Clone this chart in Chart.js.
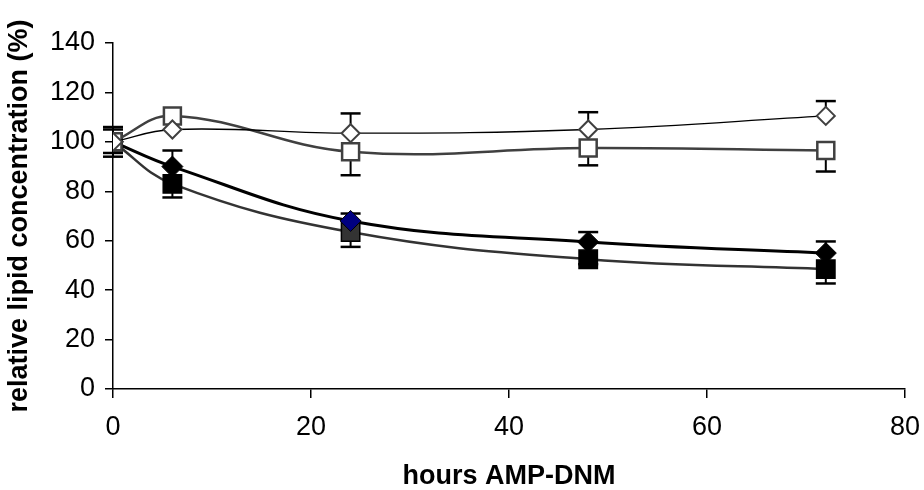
<!DOCTYPE html>
<html>
<head>
<meta charset="utf-8">
<script src="https://cdn.jsdelivr.net/npm/chart.js@4/dist/chart.umd.min.js"></script>
<style>
  html, body { margin: 0; padding: 0; background: #fff; }
  canvas { display: block; }
</style>
</head>
<body>
<canvas id="chart" width="924" height="490"></canvas>
<script>
// heures de prélèvement
const hours = [0, 6, 24, 48, 72];

// concentrations relatives (%)
const openDiamond   = [100, 105, 103.5, 105, 110.5];
const openSquare    = [100, 110.5, 96, 97.5, 96.5];
const filledDiamond = [100, 90, 68, 59.5, 55];
const filledSquare  = [100, 83, 63.5, 52.5, 48.5];

// barres d'erreur (un seul sens visible par série)
const openDiamondErrUp    = [6, 0, 8, 7, 6];
const openSquareErrDown   = [4.5, 0, 9.5, 7, 8.5];
const filledDiamondErrUp  = [5, 6.5, 3, 4, 4.7];
const filledSquareErrDown = [6, 5.5, 6, 2, 5.8];

const xTicks = [0, 20, 40, 60, 80];
const yTicks = [0, 20, 40, 60, 80, 100, 120, 140];

const FONT = "'Liberation Sans', Arial, sans-serif";

function toPoints(values) {
    return hours.map((h, i) => ({ x: h, y: values[i] }));
}

const errorBars = {
    id: "errorBars",
    beforeDatasetsDraw(chart) {
        const { ctx, scales: { x, y } } = chart;
        ctx.save();
        ctx.strokeStyle = "#000";
        chart.data.datasets.forEach(ds => {
            const up = ds.errUp || [];
            const down = ds.errDown || [];
            ds.data.forEach((p, i) => {
                const px = x.getPixelForValue(p.x);
                const py = y.getPixelForValue(p.y);
                [[up[i], 1], [down[i], -1]].forEach(([e, dir]) => {
                    if (!e) return;
                    const ey = y.getPixelForValue(p.y + dir * e);
                    ctx.lineWidth = 2;
                    ctx.beginPath();
                    ctx.moveTo(px, py);
                    ctx.lineTo(px, ey);
                    ctx.stroke();
                    ctx.lineWidth = 2.5;
                    ctx.beginPath();
                    ctx.moveTo(px - 10, ey);
                    ctx.lineTo(px + 10, ey);
                    ctx.stroke();
                });
            });
        });
        ctx.restore();
    }
};

const ctx = document.getElementById("chart").getContext("2d");

new Chart(ctx, {
    type: "scatter",
    data: {
        datasets: [
            {
                data: toPoints(openDiamond),
                errUp: openDiamondErrUp,
                showLine: true,
                tension: 0.4,
                borderColor: "#000",
                borderWidth: 1.3,
                pointStyle: "rectRot",
                pointRadius: 9,
                pointBorderWidth: 2,
                pointBorderColor: "#404040",
                pointBackgroundColor: "#fff"
            },
            {
                data: toPoints(openSquare),
                errDown: openSquareErrDown,
                showLine: true,
                tension: 0.4,
                borderColor: "#404040",
                borderWidth: 2.5,
                pointStyle: "rect",
                pointRadius: 12,
                pointBorderWidth: 2.5,
                pointBorderColor: "#404040",
                pointBackgroundColor: "#fff"
            },
            {
                data: toPoints(filledDiamond),
                errUp: filledDiamondErrUp,
                showLine: true,
                tension: 0.4,
                borderColor: "#000",
                borderWidth: 3,
                pointStyle: "rectRot",
                pointRadius: 10.5,
                pointBorderWidth: 1,
                pointBorderColor: "#000",
                pointBackgroundColor: ["#000", "#000", "#000080", "#000", "#000"]
            },
            {
                data: toPoints(filledSquare),
                errDown: filledSquareErrDown,
                showLine: true,
                tension: 0.4,
                borderColor: "#333",
                borderWidth: 2.5,
                pointStyle: "rect",
                pointRadius: 13,
                pointBorderWidth: 1.5,
                pointBorderColor: "#000",
                pointBackgroundColor: ["#000", "#000", "#333", "#000", "#000"]
            }
        ]
    },
    options: {
        responsive: false,
        animation: false,
        layout: { padding: { top: 43, right: 19, bottom: 0, left: 0 } },
        scales: {
            x: {
                type: "linear",
                min: 0,
                max: 80,
                afterBuildTicks: s => { s.ticks = xTicks.map(v => ({ value: v })); },
                afterFit: s => { s.height = 101; s.paddingRight = 0; s.paddingLeft = 0; },
                grid: { drawOnChartArea: false, drawTicks: true, tickLength: 9, color: "#000", lineWidth: 1.5 },
                border: { display: true, color: "#000", width: 1.5 },
                ticks: { color: "#000", padding: 13, font: { family: FONT, size: 27 } },
                title: {
                    display: true,
                    text: "hours AMP-DNM",
                    color: "#000",
                    padding: { top: 0, bottom: 0 },
                    font: { family: FONT, size: 27, weight: "bold", lineHeight: 1 }
                }
            },
            y: {
                min: 0,
                max: 140,
                afterBuildTicks: s => { s.ticks = yTicks.map(v => ({ value: v })); },
                afterFit: s => { s.width = 113; s.paddingTop = 0; s.paddingBottom = 0; },
                grid: { drawOnChartArea: false, drawTicks: true, tickLength: 8, color: "#000", lineWidth: 1.5 },
                border: { display: true, color: "#000", width: 1.5 },
                ticks: { color: "#000", padding: 10, font: { family: FONT, size: 27 } },
                title: {
                    display: true,
                    text: "relative lipid concentration (%)",
                    color: "#000",
                    padding: { top: 6, bottom: 0 },
                    font: { family: FONT, size: 27, weight: "bold", lineHeight: 1 }
                }
            }
        },
        plugins: {
            legend: { display: false },
            tooltip: { enabled: false }
        }
    },
    plugins: [errorBars]
});
</script>
</body>
</html>
